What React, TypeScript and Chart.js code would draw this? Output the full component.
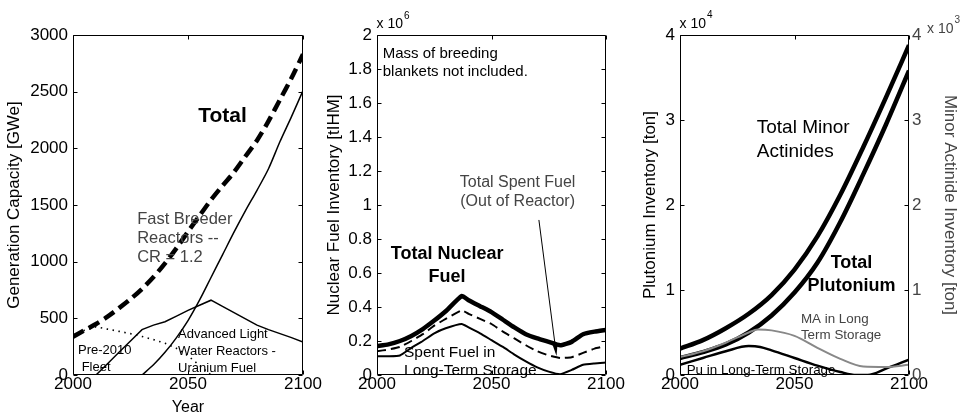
import React, { useEffect, useRef } from 'react';
import { Chart, registerables } from 'chart.js';

Chart.register(...registerables);

const FONT = '"Liberation Sans", Arial, Helvetica, sans-serif';
const H = 417;

// ---------------- Panel 1: generation capacity [GWe] ----------------
const capYears = [2000, 2005, 2010, 2015, 2020, 2025, 2030, 2035, 2040, 2045, 2050, 2055, 2060, 2065, 2070, 2075, 2080, 2085, 2090, 2095, 2100];
const capTotal = [338, 395, 450, 515, 590, 670, 760, 865, 985, 1120, 1265, 1405, 1545, 1670, 1790, 1930, 2070, 2240, 2430, 2620, 2830];
const capPre2010 = [338, 395, 425, 405, 385, 365, 340, 312, 280, 235, 170, 85, 0, 0, 0, 0, 0, 0, 0, 0, 0];
const alwrYears = [2010, 2015, 2020, 2025, 2030, 2035, 2040, 2045, 2050, 2055, 2060, 2065, 2070, 2075, 2080, 2085, 2090, 2095, 2100];
const capALWR = [0, 100, 200, 300, 400, 440, 470, 520, 570, 615, 660, 605, 550, 495, 440, 400, 365, 330, 290];
const fbrYears = [2030, 2035, 2040, 2045, 2050, 2055, 2060, 2065, 2070, 2075, 2080, 2085, 2090, 2095, 2100];
const capFBR = [0, 90, 200, 330, 480, 660, 860, 1060, 1260, 1450, 1630, 1820, 2060, 2280, 2510];
const capTicks = [0, 500, 1000, 1500, 2000, 2500, 3000];

// ---------------- Panel 2: nuclear fuel inventory [x10^6 tIHM] ----------------
const fuelYears = [2000, 2005, 2010, 2015, 2020, 2025, 2030, 2037, 2040, 2045, 2050, 2055, 2060, 2065, 2070, 2075, 2080, 2085, 2090, 2095, 2100];
const fuelTotal = [0.17, 0.18, 0.2, 0.23, 0.27, 0.32, 0.375, 0.465, 0.44, 0.405, 0.37, 0.325, 0.28, 0.24, 0.215, 0.195, 0.175, 0.195, 0.24, 0.255, 0.265];
const fuelSpent = [0.14, 0.15, 0.165, 0.2, 0.24, 0.29, 0.33, 0.38, 0.36, 0.33, 0.3, 0.255, 0.215, 0.175, 0.14, 0.115, 0.1, 0.105, 0.13, 0.155, 0.17];
const fuelStorage = [0.11, 0.11, 0.115, 0.16, 0.2, 0.245, 0.275, 0.3, 0.28, 0.245, 0.205, 0.165, 0.12, 0.08, 0.045, 0.02, 0.005, 0.03, 0.06, 0.068, 0.073];

// ---------------- Panel 3: Pu [x10^4 ton] (left), MA [x10^3 ton] (right) ----------------
const actYears = [2000, 2010, 2020, 2030, 2040, 2050, 2060, 2070, 2080, 2090, 2100];
const maTotal = [0.31, 0.41, 0.55, 0.72, 0.94, 1.24, 1.63, 2.12, 2.68, 3.27, 3.88];
const puTotal = [0.2, 0.27, 0.36, 0.5, 0.7, 0.97, 1.32, 1.8, 2.36, 2.95, 3.58];
const maStorageYears = [2000, 2010, 2020, 2030, 2034, 2040, 2050, 2060, 2070, 2080, 2090, 2100];
const maStorage = [0.21, 0.28, 0.38, 0.5, 0.535, 0.525, 0.46, 0.32, 0.19, 0.1, 0.095, 0.12];
const puStorageYears = [2000, 2010, 2020, 2030, 2035, 2040, 2050, 2060, 2070, 2077, 2082, 2090, 2100];
const puStorage = [0.12, 0.2, 0.28, 0.34, 0.33, 0.29, 0.2, 0.11, 0.035, 0.0, 0.0, 0.075, 0.18];

// ---------------- Text annotations (data coordinates) ----------------
type Note = { x: number; y: number; lines: string[]; size: number; bold?: boolean; color?: string; align: CanvasTextAlign; gap: number };
type Arrow = { x1: number; y1: number; x2: number; y2: number };
type Exp = { base: string; sup: string; side: 'left' | 'right'; dx: number; base_y: number; sup_y: number; color: string };

const capNotes: Note[] = [
  { x: 2065, y: 2285, lines: ['Total'], size: 21, bold: true, align: 'center', gap: 0 },
  { x: 2027.9, y: 1376, lines: ['Fast Breeder', 'Reactors --', 'CR = 1.2'], size: 16.5, color: '#444', align: 'left', gap: 19 },
  { x: 2002.2, y: 214, lines: ['Pre-2010', ' Fleet'], size: 13, align: 'left', gap: 16.5 },
  { x: 2045.7, y: 362, lines: ['Advanced Light', 'Water Reactors -', 'Uranium Fuel'], size: 13, align: 'left', gap: 17 },
];
const fuelNotes: Note[] = [
  { x: 2002.5, y: 1.888, lines: ['Mass of breeding', 'blankets not included.'], size: 15, align: 'left', gap: 18 },
  { x: 2030.6, y: 0.712, lines: ['Total Nuclear', 'Fuel'], size: 18, bold: true, align: 'center', gap: 23 },
  { x: 2061.4, y: 1.129, lines: ['Total Spent Fuel', '(Out of Reactor)'], size: 16, color: '#444', align: 'center', gap: 19 },
  { x: 2011.8, y: 0.131, lines: ['Spent Fuel in', 'Long-Term Storage'], size: 15.5, align: 'left', gap: 17.5 },
];
const fuelArrows: Arrow[] = [{ x1: 2070.7, y1: 0.912, x2: 2078.4, y2: 0.112 }];
const actNotes: Note[] = [
  { x: 2033.5, y: 2.906, lines: ['Total Minor', 'Actinides'], size: 19, align: 'left', gap: 23.7 },
  { x: 2074.9, y: 1.314, lines: ['Total', 'Plutonium'], size: 18, bold: true, align: 'center', gap: 23 },
  { x: 2052.8, y: 0.659, lines: ['MA in Long', 'Term Storage'], size: 13.4, color: '#444', align: 'left', gap: 16.7 },
  { x: 2002.9, y: 0.059, lines: ['Pu in Long-Term Storage'], size: 13.4, align: 'left', gap: 0 },
];

const pts = (xs: number[], ys: number[]) => xs.map((x, i) => ({ x, y: ys[i] }));

function xScale(title?: string) {
  return {
    type: 'linear',
    min: 2000,
    max: 2100,
    ticks: {
      stepSize: 50,
      autoSkip: false,
      maxRotation: 0,
      padding: 1,
      color: '#000',
      font: { family: FONT, size: 17, lineHeight: 1 },
      callback: (v: number) => String(v),
    },
    grid: { display: false, drawTicks: false },
    border: { display: false },
    title: title
      ? { display: true, text: title, color: '#000', font: { family: FONT, size: 16 }, padding: { top: 0, bottom: 0 } }
      : { display: false },
    afterFit: (s: any) => { s.height = 42; },
  };
}

function yScale(o: { min: number; max: number; step: number; title: string; titlePad: number; width: number; position?: string; fmt: (v: number) => string; color?: string }) {
  const color = o.color || '#000';
  const pos = o.position || 'left';
  return {
    type: 'linear',
    position: pos,
    min: o.min,
    max: o.max,
    ticks: {
      stepSize: o.step,
      autoSkip: false,
      padding: pos === 'left' ? 5 : 3,
      color,
      font: { family: FONT, size: 17 },
      callback: o.fmt,
    },
    grid: { display: false, drawTicks: false },
    border: { display: false },
    title: { display: true, text: o.title, color, font: { family: FONT, size: 17 }, padding: { top: o.titlePad, bottom: 0 } },
    afterFit: (s: any) => { s.width = o.width; },
  };
}

function overlay(notes: Note[], arrows: Arrow[], exps: Exp[], leftId: string, rightId: string) {
  return {
    id: 'matlabOverlay',
    afterDatasetsDraw(chart: any) {
      const { ctx, chartArea: a } = chart;
      const xs = chart.scales.x;
      const yl = chart.scales[leftId];
      const yr = chart.scales[rightId];
      const L = 4;
      ctx.save();
      ctx.strokeStyle = '#000';
      ctx.lineWidth = 1;
      const l = Math.round(a.left) + 0.5;
      const r = Math.round(a.right) - 0.5;
      const t = Math.round(a.top) + 0.5;
      const b = Math.round(a.bottom) - 0.5;
      ctx.beginPath();
      ctx.rect(l, t, r - l, b - t);
      ctx.stroke();
      ctx.beginPath();
      xs.ticks.forEach((tk: any) => {
        const p = Math.round(xs.getPixelForValue(tk.value)) + 0.5;
        ctx.moveTo(p, b); ctx.lineTo(p, b - L);
        ctx.moveTo(p, t); ctx.lineTo(p, t + L);
      });
      yl.ticks.forEach((tk: any) => {
        const p = Math.round(yl.getPixelForValue(tk.value)) + 0.5;
        ctx.moveTo(l, p); ctx.lineTo(l + L, p);
      });
      yr.ticks.forEach((tk: any) => {
        const p = Math.round(yr.getPixelForValue(tk.value)) + 0.5;
        ctx.moveTo(r, p); ctx.lineTo(r - L, p);
      });
      ctx.stroke();

      ctx.textBaseline = 'middle';
      notes.forEach((n) => {
        ctx.font = `${n.bold ? 'bold ' : ''}${n.size}px ${FONT}`;
        ctx.fillStyle = n.color || '#000';
        ctx.textAlign = n.align;
        const px = xs.getPixelForValue(n.x);
        const py = yl.getPixelForValue(n.y);
        n.lines.forEach((line, i) => ctx.fillText(line, px, py + i * n.gap));
      });

      arrows.forEach((ar) => {
        const x1 = xs.getPixelForValue(ar.x1), y1 = yl.getPixelForValue(ar.y1);
        const x2 = xs.getPixelForValue(ar.x2), y2 = yl.getPixelForValue(ar.y2);
        const ang = Math.atan2(y2 - y1, x2 - x1);
        const len = 12, hw = 2.6;
        const bx = x2 - len * Math.cos(ang), by = y2 - len * Math.sin(ang);
        ctx.beginPath();
        ctx.moveTo(x1, y1); ctx.lineTo(bx, by);
        ctx.stroke();
        ctx.fillStyle = '#000';
        ctx.beginPath();
        ctx.moveTo(x2, y2);
        ctx.lineTo(bx + hw * Math.sin(ang), by - hw * Math.cos(ang));
        ctx.lineTo(bx - hw * Math.sin(ang), by + hw * Math.cos(ang));
        ctx.closePath();
        ctx.fill();
      });

      ctx.textAlign = 'left';
      ctx.textBaseline = 'alphabetic';
      exps.forEach((e) => {
        const x0 = (e.side === 'left' ? a.left : a.right) + e.dx;
        ctx.fillStyle = e.color;
        ctx.font = `14px ${FONT}`;
        ctx.fillText(e.base, x0, e.base_y);
        const w = ctx.measureText(e.base).width;
        ctx.font = `10px ${FONT}`;
        ctx.fillText(e.sup, x0 + w + 1, e.sup_y);
      });
      ctx.restore();
    },
  };
}

const baseOptions = (rightPad: number) => ({
  animation: false,
  responsive: false,
  devicePixelRatio: 1,
  layout: { padding: { top: 35, right: rightPad, left: 0, bottom: 0 } },
  plugins: { legend: { display: false }, tooltip: { enabled: false } },
  elements: { point: { radius: 0 } },
});

function capConfig(): any {
  return {
    type: 'line',
    data: {
      datasets: [
        { data: pts(capYears, capTotal), borderColor: '#000', borderWidth: 4.5, borderDash: [12, 6], tension: 0.3 },
        { data: pts(fbrYears, capFBR), borderColor: '#000', borderWidth: 1.5, tension: 0.3 },
        { data: pts(alwrYears, capALWR), borderColor: '#000', borderWidth: 1.5, tension: 0 },
        { data: pts(capYears, capPre2010), borderColor: '#000', borderWidth: 1.6, borderDash: [1.5, 4.5], tension: 0 },
      ],
    },
    options: {
      ...baseOptions(27),
      scales: {
        x: xScale('Year'),
        y: yScale({ min: 0, max: 3000, step: 500, title: 'Generation Capacity [GWe]', titlePad: 4.3, width: 73, fmt: (v) => (capTicks.includes(v) ? String(v) : '') }),
      },
    },
    plugins: [overlay(capNotes, [], [], 'y', 'y')],
  };
}

function fuelConfig(): any {
  return {
    type: 'line',
    data: {
      datasets: [
        { data: pts(fuelYears, fuelTotal), borderColor: '#000', borderWidth: 4.5, tension: 0.15 },
        { data: pts(fuelYears, fuelSpent), borderColor: '#000', borderWidth: 2, borderDash: [9, 5], tension: 0.15 },
        { data: pts(fuelYears, fuelStorage), borderColor: '#000', borderWidth: 2, tension: 0.15 },
      ],
    },
    options: {
      ...baseOptions(34),
      scales: {
        x: xScale(),
        y: yScale({ min: 0, max: 2, step: 0.2, title: 'Nuclear Fuel Inventory [tIHM]', titlePad: 5.8, width: 59, fmt: (v) => String(Math.round(v * 10) / 10) }),
      },
    },
    plugins: [overlay(fuelNotes, fuelArrows, [{ base: 'x 10', sup: '6', side: 'left', dx: -0.5, base_y: 28, sup_y: 18.5, color: '#000' }], 'y', 'y')],
  };
}

function actConfig(): any {
  return {
    type: 'line',
    data: {
      datasets: [
        { data: pts(maStorageYears, maStorage), yAxisID: 'y1', borderColor: '#888', borderWidth: 2, cubicInterpolationMode: 'monotone' },
        { data: pts(actYears, maTotal), yAxisID: 'y1', borderColor: '#000', borderWidth: 4.5, cubicInterpolationMode: 'monotone' },
        { data: pts(actYears, puTotal), yAxisID: 'y', borderColor: '#000', borderWidth: 4.5, cubicInterpolationMode: 'monotone' },
        { data: pts(puStorageYears, puStorage), yAxisID: 'y', borderColor: '#000', borderWidth: 2.5, cubicInterpolationMode: 'monotone' },
      ],
    },
    options: {
      ...baseOptions(0),
      scales: {
        x: xScale(),
        y: yScale({ min: 0, max: 4, step: 1, title: 'Plutonium Inventory [ton]', titlePad: 3.8, width: 44, fmt: (v) => String(v) }),
        y1: yScale({ min: 0, max: 4, step: 1, title: 'Minor Actinide Inventory [ton]', titlePad: 11.8, width: 63, position: 'right', color: '#444', fmt: (v) => String(v) }),
      },
    },
    plugins: [
      overlay(actNotes, [], [
        { base: 'x 10', sup: '4', side: 'left', dx: -0.5, base_y: 28, sup_y: 18, color: '#000' },
        { base: 'x 10', sup: '3', side: 'right', dx: 18, base_y: 33, sup_y: 23, color: '#444' },
      ], 'y', 'y1'),
    ],
  };
}

function Panel({ left, width, make }: { left: number; width: number; make: () => any }) {
  const ref = useRef<HTMLCanvasElement>(null);
  useEffect(() => {
    const chart = new Chart(ref.current as HTMLCanvasElement, make());
    return () => chart.destroy();
  }, []);
  return <canvas ref={ref} width={width} height={H} style={{ position: 'absolute', left, top: 0, width, height: H }} />;
}

export default function App() {
  return (
    <div style={{ position: 'fixed', left: 0, top: 0, width: 972, height: H, background: '#fff', overflow: 'hidden' }}>
      <Panel left={0} width={330} make={capConfig} />
      <Panel left={318} width={322} make={fuelConfig} />
      <Panel left={636} width={336} make={actConfig} />
    </div>
  );
}
